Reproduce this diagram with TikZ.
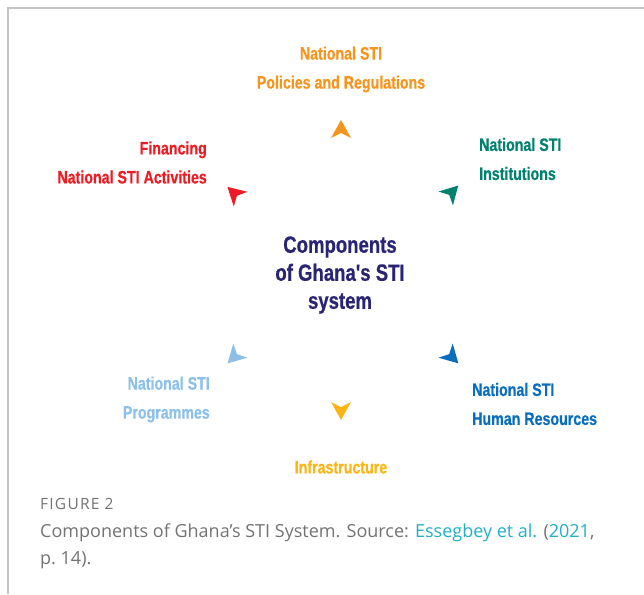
\documentclass[tikz,border=0pt]{standalone}
\usepackage{fontspec}
\setmainfont{Open Sans}
\newfontfamily\condfont{Liberation Sans}[FakeStretch=0.79, FakeBold=0.6]

\definecolor{polorange}{HTML}{F7941D}
\definecolor{finred}{HTML}{EC1C24}
\definecolor{insteal}{HTML}{00806F}
\definecolor{humblue}{HTML}{0A6EBD}
\definecolor{prgblue}{HTML}{8CC0E8}
\definecolor{infamber}{HTML}{FDB515}
\definecolor{corenavy}{HTML}{2B2473}
\definecolor{citecyan}{HTML}{22AFC4}
\definecolor{capgray}{HTML}{737373}
\definecolor{framegray}{HTML}{C4C4C4}

\begin{document}
\begin{tikzpicture}[
  x=1pt, y=-1pt,
  lbl/.style={font=\condfont\bfseries\fontsize{18}{29}\selectfont, inner sep=0pt},
  core/.style={font=\condfont\bfseries\fontsize{23.5}{28}\selectfont, inner sep=0pt,
    text=corenavy, align=center},
  captxt/.style={font=\fontsize{18}{27}\selectfont, text=capgray, inner sep=0pt,
    anchor=north west, align=left},
  frameline/.style={draw=framegray, line width=1.5pt},
  tip/.pic={\fill (9,0) -- (-9,10) -- (-4,0) -- (-9,-10) -- cycle;},
]

\useasboundingbox (0,0) rectangle (644,594);

% Frame
\draw[frameline] (644,8) -- (8,8) -- (8,594);

% Centre
\node[core] (sys) at (340,275) {Components\\of Ghana's STI\\system};

% ── Components round the centre ──
\node[lbl, text=polorange, align=center] (pol) at (341,69.5) {National STI\\Policies and Regulations};
\node[lbl, text=insteal, align=left, anchor=west] (ins) at (479,159) {National STI\\Institutions};
\node[lbl, text=humblue, align=left, anchor=west] (hum) at (472,404) {National STI\\Human Resources};
\node[lbl, text=infamber] (inf) at (341,467) {Infrastructure};
\node[lbl, text=prgblue, align=right, anchor=east] (prg) at (210,399.5) {National STI\\Programmes};
\node[lbl, text=finred, align=right, anchor=east] (fin) at (207,162.5) {Financing\\National STI Activities};

% Arrowheads, pointing outwards
\foreach \x/\y/\a/\c in {341/129/90/polorange, 452/192/46/insteal, 452/357/-45/humblue,
                         341/411/-90/infamber, 234/357/225/prgblue, 234/193/137/finred}
  \pic[color=\c, rotate=\a] at (\x,\y) {tip};

% Caption
\node[captxt, font=\fontsize{15.5}{15.5}\selectfont\addfontfeature{LetterSpace=8}] (fig) at (40,498) {FIGURE 2};
\node[captxt] (caption) at (40,524) {Components of Ghana’s STI System. Source:
  \textcolor{citecyan}{Essegbey et al.} (\textcolor{citecyan}{2021},\\p.~14).};

\end{tikzpicture}
\end{document}
